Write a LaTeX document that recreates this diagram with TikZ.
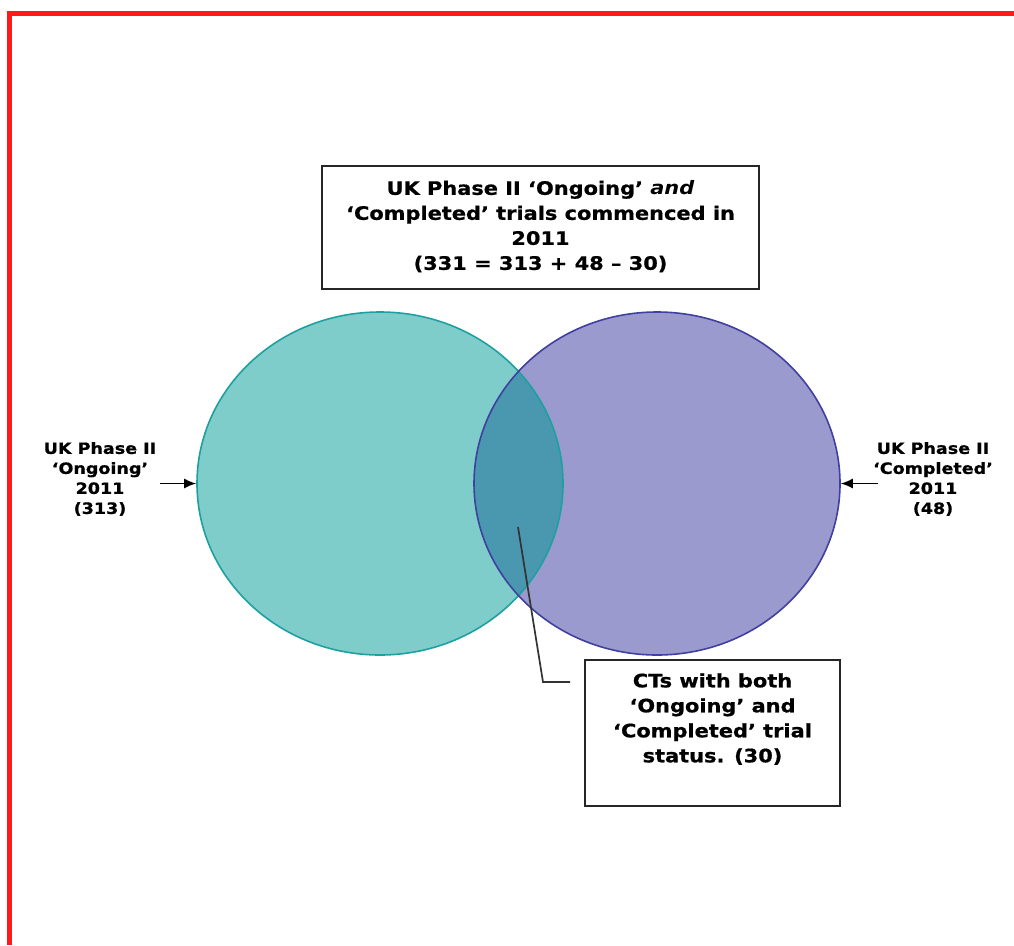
\documentclass[tikz,border=0pt]{standalone}
\usepackage{fontspec}
\setmainfont{DejaVu Sans}[FakeStretch=1.13, BoldFeatures={FakeBold=0.8}]
\usetikzlibrary{shapes.geometric,arrows.meta}
\definecolor{leftfill}{HTML}{7FCDCB}
\definecolor{leftline}{HTML}{1FA0A0}
\definecolor{rightfill}{HTML}{9A9ACE}
\definecolor{rightline}{HTML}{4040A0}
\definecolor{overlapfill}{HTML}{4A97B0}
\definecolor{frame}{HTML}{FF1A1A}
\tikzset{
  boxnode/.style={draw=black!85, line width=1.6pt, align=center},
  bigtext/.style={font=\bfseries\fontsize{18.5}{25}\selectfont, align=center},
  sidetext/.style={font=\bfseries\fontsize{15.5}{20}\selectfont, align=center},
  venn/.style={ellipse, minimum width=366pt, minimum height=343pt, inner sep=0pt, line width=1.6pt},
  pointer/.style={-{Latex[length=12pt,width=10pt]}, line width=1.5pt},
  leader/.style={draw=black!80, line width=1.7pt}
}
\begin{document}
\begin{tikzpicture}[x=1pt,y=-1pt]
\useasboundingbox (0,0) rectangle (1014,945);
\fill[white] (0,0) rectangle (1014,945);
% red frame
\draw[frame, line width=5pt] (9.5,945) -- (9.5,13.5) -- (1014,13.5);
% circle fills
\fill[leftfill] (380,483.5) ellipse [x radius=183, y radius=171.5];
\fill[rightfill] (657,483.5) ellipse [x radius=183, y radius=171.5];
\begin{scope}
  \clip (380,483.5) ellipse [x radius=183, y radius=171.5];
  \fill[overlapfill] (657,483.5) ellipse [x radius=183, y radius=171.5];
\end{scope}
% circle outlines
\node[venn, draw=leftline] (L) at (380,483.5) {};
\node[venn, draw=rightline] (R) at (657,483.5) {};
% top box
\node[boxnode, minimum width=437pt, minimum height=123pt] (T) at (540.5,227.5) {};
\node[bigtext] (Tt) at (540.5,226.5) {UK Phase II ‘Ongoing’ \textit{and}\\‘Completed’ trials commenced in\\2011\\(331 = 313 + 48 – 30)};
% side labels
\node[sidetext] (Ltx) at (100,479) {UK Phase II\\‘Ongoing’\\2011\\(313)};
\node[sidetext] (Rtx) at (933,479) {UK Phase II\\‘Completed’\\2011\\(48)};
\coordinate (La) at (160,483.5);
\coordinate (Ra) at (878,483.5);
\draw[pointer] (La) -- (L.west);
\draw[pointer] (Ra) -- (R.east);
% bottom box
\node[boxnode, minimum width=255pt, minimum height=146pt] (B) at (712.5,733) {};
\node[bigtext] (Bt) at (712.5,719) {CTs with both\\‘Ongoing’ and\\‘Completed’ trial\\status. (30)};
% leader line
\coordinate (P) at (518,527);
\coordinate (Pe) at (570,682);
\draw[leader] (P) -- (543,682) -- (Pe);
\end{tikzpicture}
\end{document}
